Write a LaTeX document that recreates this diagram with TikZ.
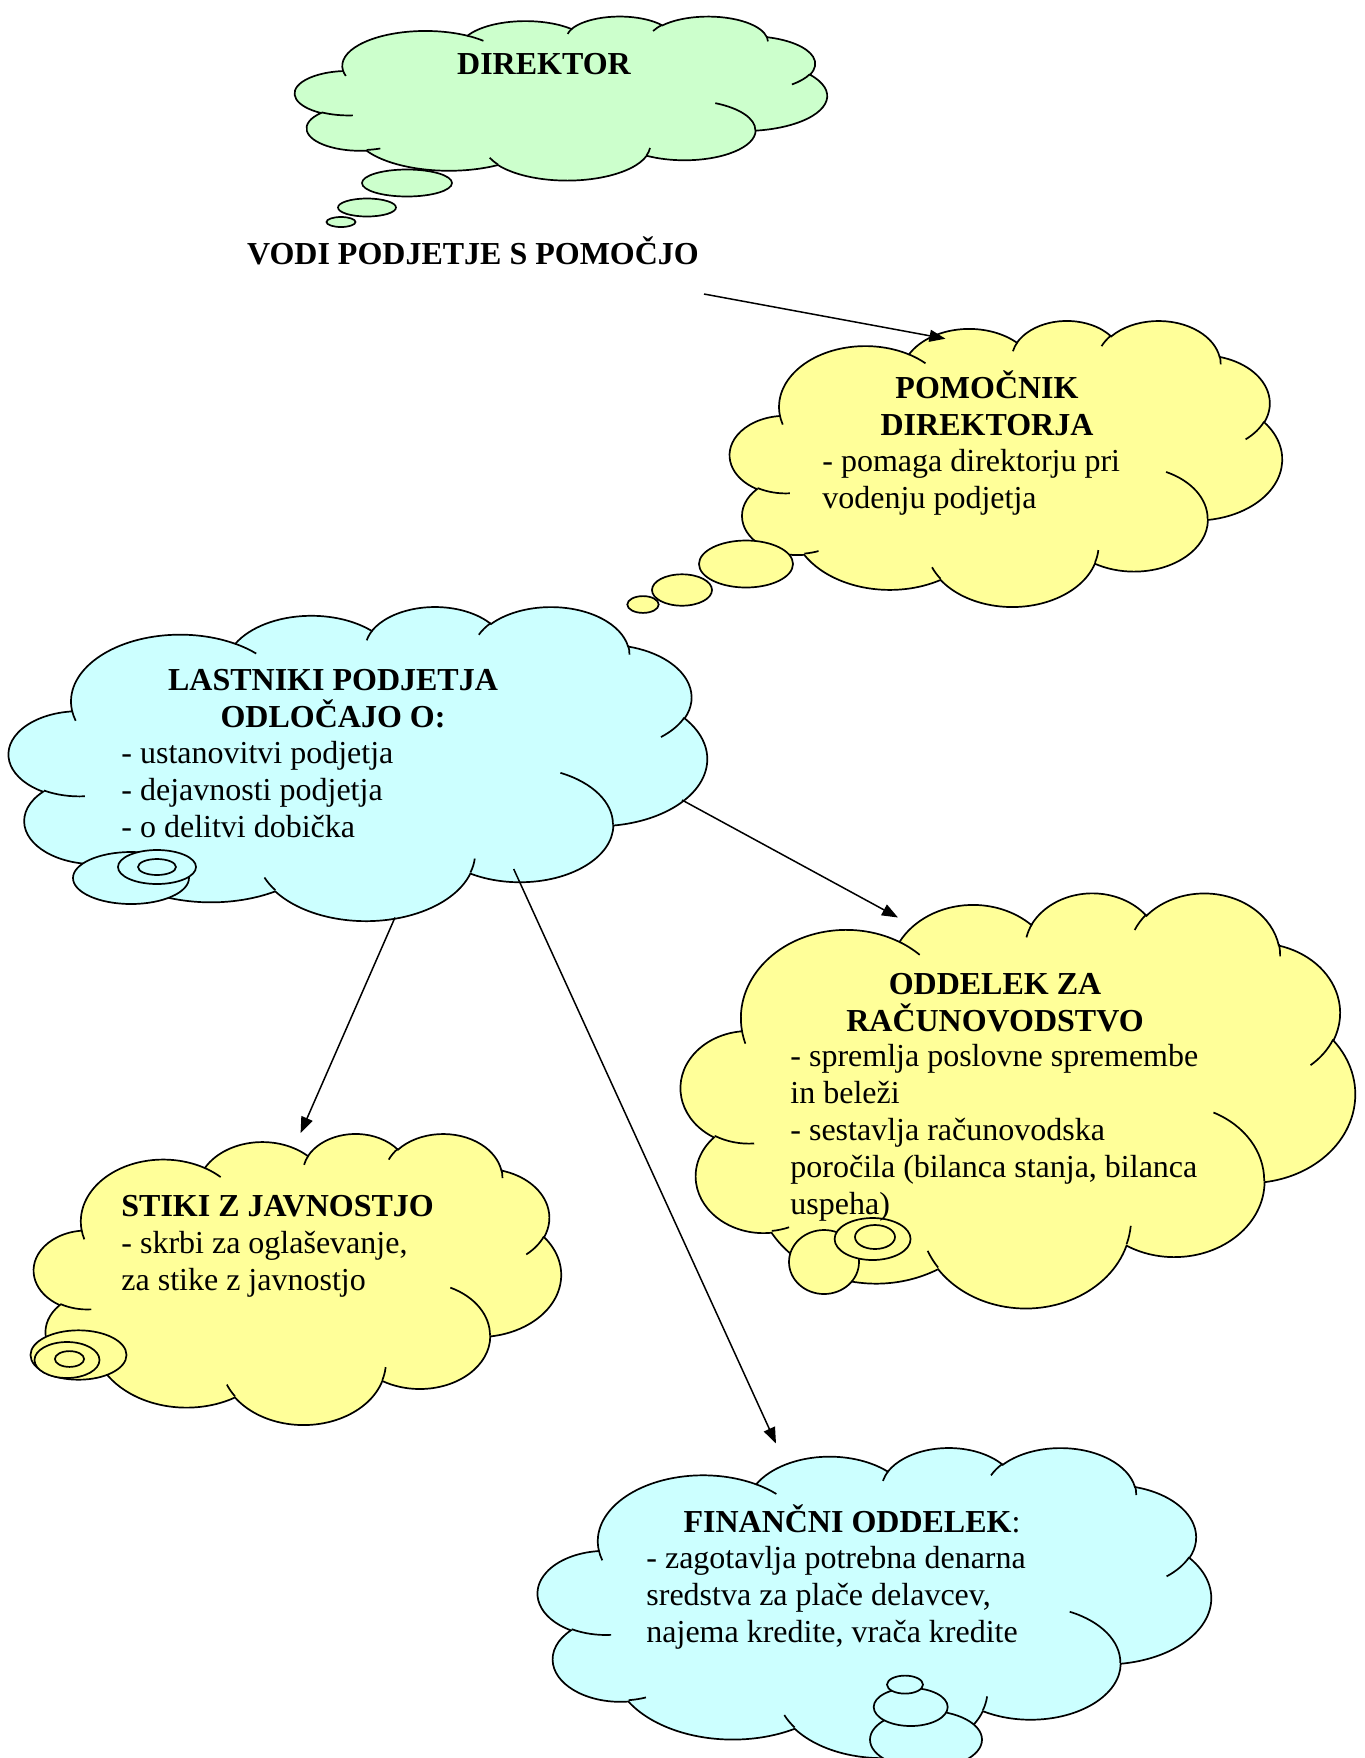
\documentclass[tikz,border=0pt]{standalone}
\usepackage{fontspec}
\setmainfont{Liberation Serif}
\usepackage{tikz}
\usetikzlibrary{arrows.meta}
\definecolor{cloudgreen}{HTML}{CCFFCC}
\definecolor{cloudyellow}{HTML}{FFFF99}
\definecolor{cloudcyan}{HTML}{CCFFFF}
% elliptic arc, angles given as seen on the ellipse
\newcommand{\carc}[4]{arc[x radius=#1, y radius=#2,
  start angle={atan2(#1*sin(#3),#2*cos(#3))},
  delta angle={mod(atan2(#1*sin(#3+#4),#2*cos(#3+#4))-atan2(#1*sin(#3),#2*cos(#3))+720,360)}]}
% cloud: left, top, width, height, fill
\newcommand{\wcloud}[5]{%
  \pgfmathsetmacro{\cloudsx}{#3*0.5/432}%
  \pgfmathsetmacro{\cloudsy}{#4*0.5/432}%
  \begin{scope}[shift={(#1,#2)}, x={(\cloudsx pt,0pt)}, y={(0pt,-\cloudsy pt)}]
    \filldraw[cloudline, fill=#5] (39.00,143.70)
      \carc{67.53}{91.90}{-190.48748}{123.78053}
      \carc{53.33}{72.67}{-144.10238}{89.94523}
      \carc{43.65}{59.45}{-145.80792}{99.72302}
      \carc{48.57}{65.95}{-130.98607}{117.24173}
      \carc{53.33}{72.73}{-78.70888}{109.02692}
      \carc{67.75}{92.20}{-46.26725}{130.269}
      \carc{57.85}{78.67}{0.62502}{114.03333}
      \carc{67.52}{92.15}{22.4516}{115.17255}
      \carc{77.20}{105.43}{66.24263}{75.71102}
      \carc{43.60}{59.18}{-274.94208}{146.73557}
      \carc{43.45}{59.45}{-246.8285}{152.51885} -- cycle;
    \draw[cloudline]
      (46.93,261.77) \carc{43.45}{59.45}{86.742}{26.4295}
      (69.28,348.99) \carc{43.60}{59.18}{73.61047}{11.44747}
      (164.78,390.90) \carc{67.52}{92.15}{137.62415}{14.0811}
      (288.27,347.51) \carc{67.52}{92.15}{6.45327}{15.99835}
      (341.29,229.54) \carc{57.85}{78.67}{-70.29235}{70.91737}
      (417.98,153.54) \carc{53.33}{72.73}{30.31803}{27.7515}
      (383.24,54.26) \carc{48.57}{65.95}{-13.74433}{14.8589}
      (290.78,39.52) \carc{48.57}{65.95}{-149.18145}{18.19537}
      (221.41,47.20) \carc{43.65}{59.45}{-163.49427}{17.68635}
      (140.00,51.92) \carc{67.53}{91.90}{-66.70695}{12.31935}
      (41.27,157.89) \carc{67.53}{91.90}{157.65435}{11.85817};
  \end{scope}}

\begin{document}
\begin{tikzpicture}[x=0.5pt, y=-0.5pt,
  every node/.style={font=\fontsize{16}{18.5}\selectfont, inner sep=0pt},
  cloudline/.style={draw=black, line width=0.85pt},
  title/.style={font=\fontsize{16}{18.5}\selectfont\bfseries, align=center, anchor=base},
  body/.style={align=left, anchor=base west},
  arr/.style={-{Triangle[length=8pt, width=6pt]}, line width=0.75pt}
]
\useasboundingbox (0,0) rectangle (1365,1758);

%% Direktor
\wcloud{295}{16}{532}{164}{cloudgreen}
\filldraw[cloudline, fill=cloudgreen] (407,183) ellipse[x radius=45, y radius=13.5];
\filldraw[cloudline, fill=cloudgreen] (367,207.5) ellipse[x radius=29, y radius=9];
\filldraw[cloudline, fill=cloudgreen] (341,222) ellipse[x radius=14.5, y radius=5];
\node[title] (direktor) at (544,74.5) {DIREKTOR};
\node[title] (vodi) at (473,264) {VODI PODJETJE S POMOČJO};

%% Pomocnik direktorja
\wcloud{730}{320}{552}{286}{cloudyellow}
\filldraw[cloudline, fill=cloudyellow] (746,564) ellipse[x radius=47, y radius=23.5];
\filldraw[cloudline, fill=cloudyellow] (682,590) ellipse[x radius=30, y radius=15.7];
\filldraw[cloudline, fill=cloudyellow] (643,604.5) ellipse[x radius=15.7, y radius=8.4];
\node[title] (pomocnik) at (987,435.5) {POMOČNIK\\DIREKTORJA};
\node[body] (pomocniktxt) at (822,508) {- pomaga direktorju pri\\vodenju podjetja};

%% Lastniki
\wcloud{9}{606}{698}{314}{cloudcyan}
\filldraw[cloudline, fill=cloudcyan] (131,878) ellipse[x radius=58, y radius=26];
\filldraw[cloudline, fill=cloudcyan] (157,867) ellipse[x radius=39, y radius=17];
\filldraw[cloudline, fill=cloudcyan] (157,867) ellipse[x radius=19, y radius=8];
\node[title] (lastniki) at (333,727) {LASTNIKI PODJETJA\\ODLOČAJO O:};
\node[body] (lastnikitxt) at (121,837) {- ustanovitvi podjetja\\- dejavnosti podjetja\\- o delitvi dobička};

%% Racunovodstvo
\wcloud{681}{892}{674}{415}{cloudyellow}
\filldraw[cloudline, fill=cloudyellow] (824,1262) ellipse[x radius=35, y radius=32];
\filldraw[cloudline, fill=cloudyellow] (872.6,1239) ellipse[x radius=38, y radius=21];
\filldraw[cloudline, fill=cloudyellow] (875,1237) ellipse[x radius=20, y radius=12];
\node[title] (oddelek) at (995,1031) {ODDELEK ZA\\RAČUNOVODSTVO};
\node[body] (oddelektxt) at (790,1214) {- spremlja poslovne spremembe\\in beleži\\- sestavlja računovodska\\poročila (bilanca stanja, bilanca\\uspeha)};

%% Stiki z javnostjo
\wcloud{34}{1133}{527}{291}{cloudyellow}
\filldraw[cloudline, fill=cloudyellow] (78.5,1355) ellipse[x radius=48, y radius=24.7];
\filldraw[cloudline, fill=cloudyellow] (67,1360) ellipse[x radius=32.5, y radius=18];
\filldraw[cloudline, fill=cloudyellow] (69.5,1359) ellipse[x radius=14.6, y radius=7.9];
\node[body] (stiki) at (121,1290) {\textbf{STIKI Z JAVNOSTJO}\\- skrbi za oglaševanje,\\za stike z javnostjo};

%% Financni oddelek
\wcloud{538}{1447}{673}{310}{cloudcyan}
\filldraw[cloudline, fill=cloudcyan] (926,1739.6) ellipse[x radius=56, y radius=29];
\filldraw[cloudline, fill=cloudcyan] (910.7,1707) ellipse[x radius=37, y radius=19];
\filldraw[cloudline, fill=cloudcyan] (905,1684.6) ellipse[x radius=18, y radius=9];
\node[title] (financni) at (852,1532) {\textbf{FINANČNI ODDELEK}\mdseries:};
\node[body] (financnitxt) at (646,1642) {- zagotavlja potrebna denarna\\sredstva za plače delavcev,\\najema kredite, vrača kredite};

%% Arrows
\coordinate (vodiend) at (704,294);
\coordinate (pomocniktop) at (945.5,338.7);
\coordinate (lastnikiright) at (682,800);
\coordinate (oddelektop) at (898,917.5);
\coordinate (lastnikibottom) at (395,917.5);
\coordinate (stikitop) at (300.6,1133);
\coordinate (lastnikimid) at (513.7,869);
\coordinate (financnitop) at (776,1443.5);
\draw[arr] (vodiend) -- (pomocniktop);
\draw[arr] (lastnikiright) -- (oddelektop);
\draw[arr] (lastnikibottom) -- (stikitop);
\draw[arr] (lastnikimid) -- (financnitop);

\end{tikzpicture}
\end{document}
